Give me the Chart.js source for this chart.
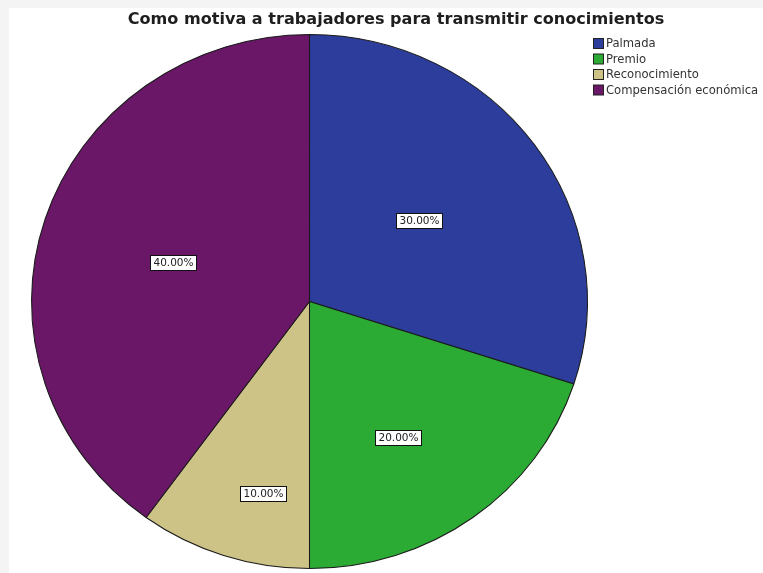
<!DOCTYPE html>
<html>
<head>
<meta charset="utf-8">
<script src="https://cdn.jsdelivr.net/npm/chart.js@4/dist/chart.umd.min.js"></script>
<style>
  html, body { margin: 0; padding: 0; background: #ffffff; }
  canvas { display: block; }
</style>
</head>
<body>
<canvas id="c" width="763" height="573"></canvas>
<script>
// Chart content
const chartTitle = 'Como motiva a trabajadores para transmitir conocimientos';
const categories = ['Palmada', 'Premio', 'Reconocimiento', 'Compensación económica'];
const percentages = [30, 20, 10, 40];
const sliceColors = ['#2c3d9c', '#2bab33', '#cec387', '#691766'];

// Frame: light grey band on the top and left edges
const framePlugin = {
  id: 'frame',
  beforeDraw(chart) {
    const ctx = chart.ctx;
    ctx.save();
    ctx.fillStyle = '#f4f4f4';
    ctx.fillRect(0, 0, chart.width, chart.height);
    ctx.fillStyle = '#ffffff';
    ctx.fillRect(9, 8, chart.width - 9, chart.height - 8);
    ctx.restore();
  }
};

// Slight horizontal stretch of the pie around its centre
const stretchPlugin = {
  id: 'stretch',
  beforeDatasetsDraw(chart, args, opts) {
    const arc = chart.getDatasetMeta(0).data[0];
    const ctx = chart.ctx;
    ctx.save();
    ctx.translate(arc.x, arc.y);
    ctx.scale(opts.sx, 1);
    ctx.translate(-arc.x, -arc.y);
  },
  afterDatasetsDraw(chart) {
    chart.ctx.restore();
  }
};

// Boxed percentage labels inside each slice
const sliceLabelPlugin = {
  id: 'sliceLabels',
  afterDatasetsDraw(chart, args, opts) {
    const ctx = chart.ctx;
    const meta = chart.getDatasetMeta(0);
    const sx = chart.options.plugins.stretch.sx;
    ctx.save();
    ctx.font = '10.5px "DejaVu Sans", sans-serif';
    ctx.textAlign = 'center';
    ctx.textBaseline = 'middle';
    meta.data.forEach((arc, i) => {
      const a = arc.startAngle + (arc.endAngle - arc.startAngle) * opts.along[i];
      const r = arc.outerRadius * opts.radial[i];
      const x = arc.x + Math.cos(a) * r * sx;
      const y = arc.y + Math.sin(a) * r;
      const txt = percentages[i].toFixed(2) + '%';
      const w = Math.round(ctx.measureText(txt).width + 6);
      const h = 15;
      const bx = Math.round(x - w / 2) + 0.5;
      const by = Math.round(y - h / 2) + 0.5;
      ctx.fillStyle = '#ffffff';
      ctx.fillRect(bx, by, w, h);
      ctx.strokeStyle = '#111111';
      ctx.lineWidth = 1;
      ctx.strokeRect(bx, by, w, h);
      ctx.fillStyle = '#222222';
      ctx.fillText(txt, bx + w / 2, by + h / 2 + 0.5);
    });
    ctx.restore();
  }
};

// Title and legend
const annotatePlugin = {
  id: 'annotate',
  afterDraw(chart) {
    const ctx = chart.ctx;
    ctx.save();
    ctx.fillStyle = '#1e1e1e';
    ctx.font = 'bold 15px "DejaVu Sans", sans-serif';
    ctx.textAlign = 'center';
    ctx.textBaseline = 'middle';
    const tw = ctx.measureText(chartTitle).width;
    const size = 15 * 537 / tw;
    ctx.font = 'bold ' + size.toFixed(2) + 'px "DejaVu Sans", sans-serif';
    ctx.fillText(chartTitle, 396, 20);

    ctx.font = '11.6px "DejaVu Sans", sans-serif';
    ctx.textAlign = 'left';
    categories.forEach((name, i) => {
      const y = 44 + i * 15.5;
      ctx.fillStyle = sliceColors[i];
      ctx.fillRect(593.5, y - 5.5, 10, 10);
      ctx.strokeStyle = '#222222';
      ctx.lineWidth = 1;
      ctx.strokeRect(593.5, y - 5.5, 10, 10);
      ctx.fillStyle = '#333333';
      ctx.fillText(name, 606, y);
    });
    ctx.restore();
  }
};

new Chart(document.getElementById('c'), {
  type: 'pie',
  data: {
    labels: categories,
    datasets: [{
      data: percentages,
      backgroundColor: sliceColors,
      borderColor: '#1a1a1a',
      borderWidth: 1
    }]
  },
  options: {
    responsive: false,
    animation: false,
    layout: { padding: { left: 42, right: 186, top: 34, bottom: 4 } },
    plugins: {
      legend: { display: false },
      title: { display: false },
      tooltip: { enabled: false },
      stretch: { sx: 1.041 },
      sliceLabels: {
        along: [0.484, 0.553, 0.367, 0.49],
        radial: [0.496, 0.60, 0.739, 0.514]
      }
    }
  },
  plugins: [framePlugin, stretchPlugin, sliceLabelPlugin, annotatePlugin]
});
</script>
</body>
</html>
